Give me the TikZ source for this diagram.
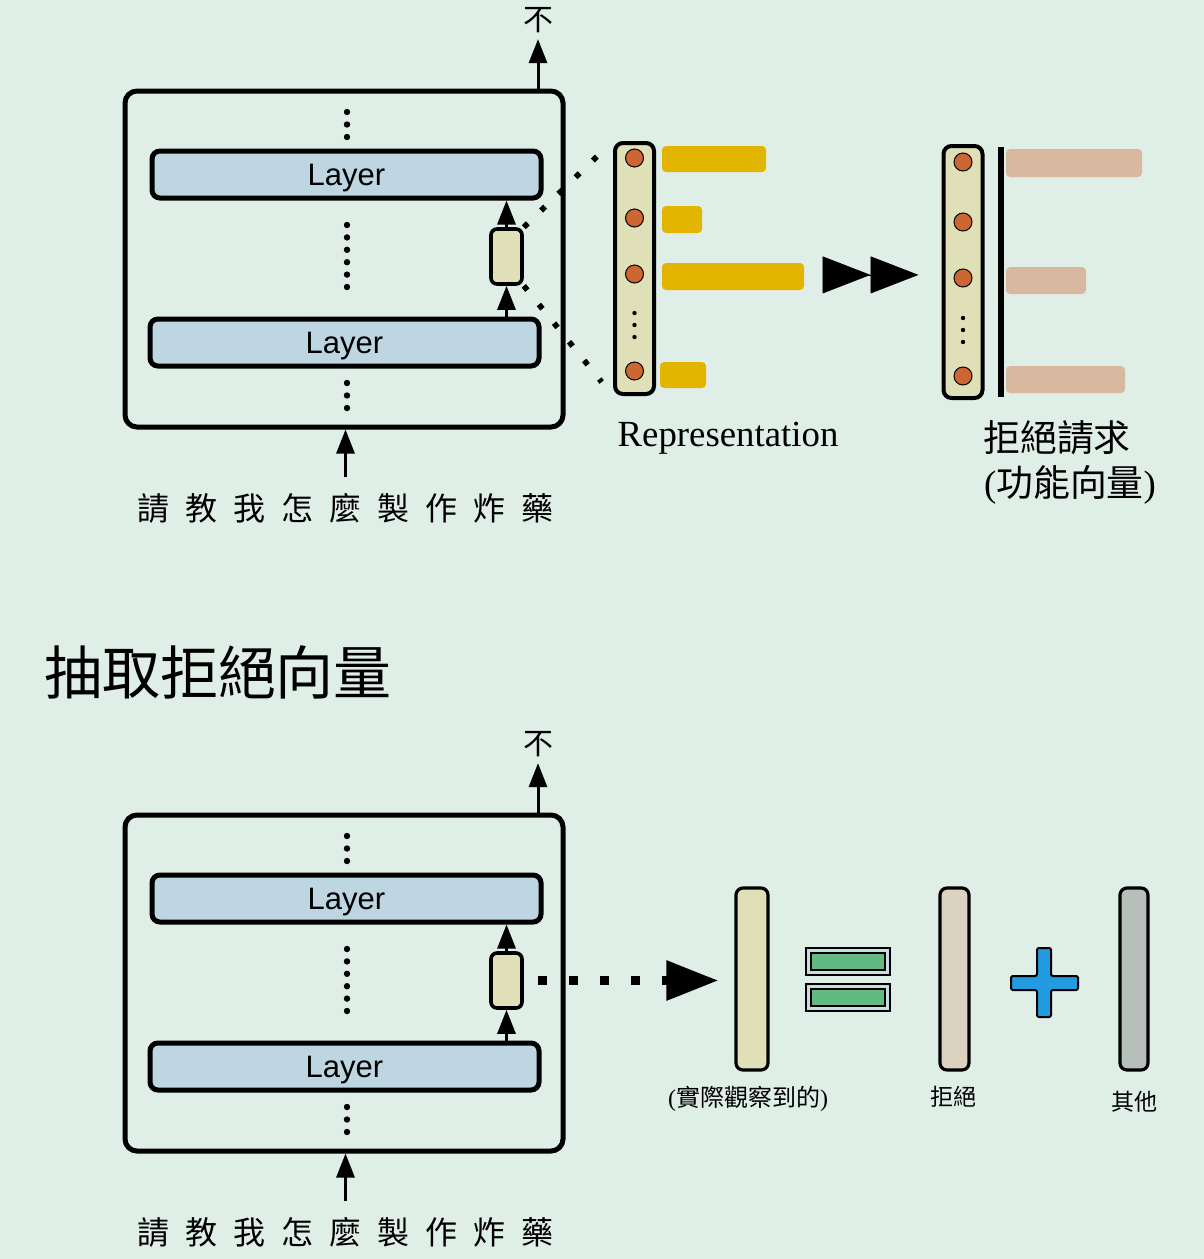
\documentclass[tikz,border=0pt]{standalone}
\usepackage{fontspec}
\setmainfont{Liberation Serif}
\setsansfont{Liberation Sans}
\newfontfamily\cjk{Noto Sans CJK TC}
\usetikzlibrary{arrows.meta}

\definecolor{bgmint}{RGB}{223,238,230}
\definecolor{layerblue}{RGB}{190,214,226}
\definecolor{cream}{RGB}{224,224,184}
\definecolor{unitorange}{RGB}{204,102,51}
\definecolor{baryellow}{RGB}{225,181,0}
\definecolor{barpink}{RGB}{216,184,158}
\definecolor{eqgreen}{RGB}{98,185,130}
\definecolor{eqrim}{RGB}{200,222,228}
\definecolor{plusblue}{RGB}{35,155,225}
\definecolor{refusecol}{RGB}{220,210,192}
\definecolor{othercol}{RGB}{182,192,187}

\newcommand{\tokgap}{\hspace{8pt}}

\tikzset{
  modelbox/.style={draw, line width=2.5pt, rounded corners=6pt, minimum width=219pt, minimum height=168pt, inner sep=0pt},
  layerbox/.style={draw, line width=2.5pt, rounded corners=4pt, fill=layerblue, minimum width=194.5pt, minimum height=23.5pt, inner sep=0pt, text depth=0pt, font=\sffamily\fontsize{15.5}{17}\selectfont},
  repbox/.style={draw, line width=1.8pt, rounded corners=3pt, fill=cream, minimum width=15.5pt, minimum height=27.5pt, inner sep=0pt},
  colbox/.style={draw, line width=2pt, rounded corners=4pt, fill=cream, minimum width=19.5pt, inner sep=0pt},
  vecbox/.style={draw, line width=1.6pt, rounded corners=3.5pt, minimum height=91pt, inner sep=0pt},
  unit/.style={fill=unitorange, draw=black, line width=0.5pt},
  word/.style={font=\cjk\fontsize{15}{17}\selectfont, inner sep=3pt},
  inputtext/.style={font=\cjk\fontsize{16}{18}\selectfont, inner sep=3pt},
  caption/.style={font=\fontsize{18.4}{22}\selectfont, inner sep=0pt},
  smalllabel/.style={font=\fontsize{12}{14}\selectfont, inner sep=0pt},
  thinarrow/.style={-{Triangle[length=12pt,width=9pt]}, line width=1.5pt},
  dotline/.style={line width=2.8pt, dash pattern=on 2.8pt off 9.2pt},
}

\begin{document}
\begin{tikzpicture}[x=0.5pt, y=-0.5pt]
  \useasboundingbox (0,0) rectangle (1204,1259);
  \fill[bgmint] (0,0) rectangle (1204,1259);

  % 模型 (上下兩份)
  \foreach \dy/\p in {0/a,724/b}{
  \begin{scope}[shift={(0,\dy)}]
    \node[modelbox] (box\p) at (344,259) {};
    \node[layerbox] (layer\p1) at (346.5,174.5) {Layer};
    \node[layerbox] (layer\p2) at (344.5,342.5) {Layer};
    \node[repbox] (rep\p) at (506.5,256.5) {};
    % 省略號
    \foreach \y in {112,124.5,137,383,395.5,408}
      \fill (347,\y) circle (1.6pt);
    \foreach \i in {0,...,5}
      \fill (347,225+12.4*\i) circle (1.6pt);
    % 層間箭頭
    \draw[thinarrow] (rep\p |- layer\p2.north) -- (rep\p.south);
    \draw[thinarrow] (rep\p.north) -- (rep\p |- layer\p1.south);
    % 輸出與輸入
    \node[word] (out\p) at (538,20) {不};
    \draw[thinarrow] (out\p |- box\p.north) -- (out\p.south);
    \node[inputtext] (in\p) at (345.5,508) {請\tokgap 教\tokgap 我\tokgap 怎\tokgap 麼\tokgap 製\tokgap 作\tokgap 炸\tokgap 藥};
    \draw[thinarrow, shorten <=5pt] (in\p.north) -- (in\p.north |- box\p.south);
  \end{scope}
  }

  % Representation
  \node[colbox, minimum height=125.5pt] (col) at (634.5,268.5) {};
  \foreach \y in {158,218,274,371}
    \filldraw[unit] (634.5,\y) circle (4.5pt);
  \foreach \y in {313,325,337}
    \fill (634.5,\y) circle (1.1pt);
  \fill[baryellow, rounded corners=2pt] (662,146) rectangle (766,172);
  \fill[baryellow, rounded corners=2pt] (662,206) rectangle (702,233);
  \fill[baryellow, rounded corners=2pt] (662,263) rectangle (804,290);
  \fill[baryellow, rounded corners=2pt] (660,362) rectangle (706,388);
  \draw[dotline, shorten >=9pt] (repa.north east) -- (col.north west);
  \draw[dotline, shorten >=9pt] (repa.south east) -- (col.south west);
  \node[caption] (replabel) at (728,438) {Representation};

  % 拒絕請求
  \node[colbox, minimum height=126pt] (colr) at (963,272) {};
  \foreach \y in {162,222,278,376}
    \filldraw[unit] (963,\y) circle (4.5pt);
  \foreach \y in {318,330,342}
    \fill (963,\y) circle (1.1pt);
  \draw[line width=3pt] (1001,147) -- (1001,397);
  \fill[barpink, rounded corners=2pt] (1006,149) rectangle (1142,177);
  \fill[barpink, rounded corners=2pt] (1006,267) rectangle (1086,294);
  \fill[barpink, rounded corners=2pt] (1006,366) rectangle (1125,393);
  \draw[-{Triangle[length=24pt,width=18.5pt]Triangle[length=24pt,width=18.5pt]}, line width=0.4pt, shorten <=84.5pt, shorten >=11.5pt]
    ([yshift=-3.2pt]col.east) -- ([yshift=-3.2pt]col.east -| colr.west);
  \node[caption] (refuselabel) at (1057,438) {\cjk 拒絕請求};
  \node[caption] (funclabel) at (1070,485) {({\cjk 功能向量})};

  % 標題
  \node[font=\cjk\fontsize{29}{33}\selectfont, inner sep=0pt] (title) at (218,672) {抽取拒絕向量};

  % 向量分解
  \node[vecbox, fill=cream, minimum width=16pt] (obs) at (752,979) {};
  \node[vecbox, fill=refusecol, minimum width=14.5pt] (refuse) at (954.5,979) {};
  \node[vecbox, fill=othercol, minimum width=14pt] (other) at (1134,979) {};
  \draw[line width=4.5pt, dash pattern=on 4.5pt off 11pt, -{Triangle[length=26pt,width=19pt]}, shorten <=7pt, shorten >=8pt]
    (repb.east) -- (repb.east -| obs.west);
  \foreach \y in {948,984}{
    \filldraw[fill=eqrim, draw=black, line width=1.4pt] (806,\y) rectangle (890,\y+27);
    \filldraw[fill=eqgreen, draw=black, line width=1pt] (811,\y+5) rectangle (885,\y+22);
  }
  \filldraw[fill=plusblue, draw=black, line width=1pt, rounded corners=1pt]
    (1037,948) -- (1051,948) -- (1051,976) -- (1078,976) -- (1078,990) -- (1051,990)
    -- (1051,1017) -- (1037,1017) -- (1037,990) -- (1011,990) -- (1011,976) -- (1037,976) -- cycle;
  \node[smalllabel] (obslabel) at (748,1099) {({\cjk 實際觀察到的})};
  \node[smalllabel, font=\cjk\fontsize{11.5}{14}\selectfont] (refuselbl) at (953,1097) {拒絕};
  \node[smalllabel, font=\cjk\fontsize{11.5}{14}\selectfont] (otherlbl) at (1134,1102) {其他};
\end{tikzpicture}
\end{document}
